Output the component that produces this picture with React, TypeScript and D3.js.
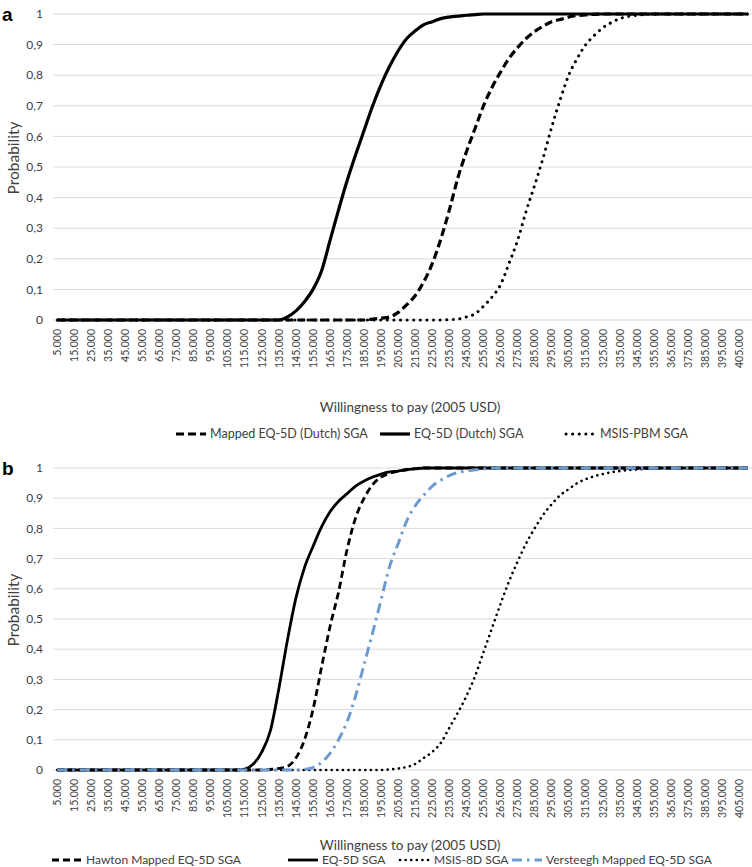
import React from "react";
import * as d3 from "d3";

// willingness to pay categories (2005 USD), one every 5.000
const categories = d3.range(5000, 410001, 5000);
const yTicks = [0, 0.1, 0.2, 0.3, 0.4, 0.5, 0.6, 0.7, 0.8, 0.9, 1];

// ---- panel a ----
const aMapped = [
  0, 0, 0, 0, 0, 0, 0, 0, 0, 0,
  0, 0, 0, 0, 0, 0, 0, 0, 0, 0,
  0, 0, 0, 0, 0, 0, 0, 0, 0, 0,
  0, 0, 0, 0, 0, 0, 0, 0.003, 0.006, 0.01,
  0.025, 0.05, 0.08, 0.125, 0.185, 0.265, 0.36, 0.465, 0.55, 0.625,
  0.7, 0.76, 0.81, 0.855, 0.89, 0.92, 0.943, 0.96, 0.975, 0.982,
  0.99, 0.995, 0.997, 0.999, 1, 1, 1, 1, 1, 1,
  1, 1, 1, 1, 1, 1, 1, 1, 1, 1,
  1, 1,
];
const aEq5d = [
  0, 0, 0, 0, 0, 0, 0, 0, 0, 0,
  0, 0, 0, 0, 0, 0, 0, 0, 0, 0,
  0, 0, 0, 0, 0, 0, 0, 0.01, 0.03, 0.06,
  0.1, 0.16, 0.26, 0.36, 0.455, 0.54, 0.62, 0.7, 0.77, 0.83,
  0.88, 0.92, 0.945, 0.965, 0.975, 0.985, 0.99, 0.993, 0.996, 0.998,
  1, 1, 1, 1, 1, 1, 1, 1, 1, 1,
  1, 1, 1, 1, 1, 1, 1, 1, 1, 1,
  1, 1, 1, 1, 1, 1, 1, 1, 1, 1,
  1, 1,
];
const aMsis = [
  0, 0, 0, 0, 0, 0, 0, 0, 0, 0,
  0, 0, 0, 0, 0, 0, 0, 0, 0, 0,
  0, 0, 0, 0, 0, 0, 0, 0, 0, 0,
  0, 0, 0, 0, 0, 0, 0, 0, 0, 0,
  0, 0, 0, 0, 0, 0, 0.001, 0.003, 0.01, 0.02,
  0.045, 0.075, 0.115, 0.185, 0.26, 0.355, 0.44, 0.53, 0.63, 0.72,
  0.8, 0.855, 0.9, 0.93, 0.955, 0.972, 0.985, 0.992, 0.996, 0.998,
  1, 1, 1, 1, 1, 1, 1, 1, 1, 1,
  1, 1,
];

// ---- panel b ----
const bHawton = [
  0, 0, 0, 0, 0, 0, 0, 0, 0, 0,
  0, 0, 0, 0, 0, 0, 0, 0, 0, 0,
  0, 0, 0, 0, 0, 0.002, 0.005, 0.012, 0.04, 0.1,
  0.2, 0.34, 0.475, 0.59, 0.73, 0.835, 0.9, 0.945, 0.97, 0.982,
  0.99, 0.995, 0.998, 1, 1, 1, 1, 1, 1, 1,
  1, 1, 1, 1, 1, 1, 1, 1, 1, 1,
  1, 1, 1, 1, 1, 1, 1, 1, 1, 1,
  1, 1, 1, 1, 1, 1, 1, 1, 1, 1,
  1, 1,
];
const bEq5d = [
  0, 0, 0, 0, 0, 0, 0, 0, 0, 0,
  0, 0, 0, 0, 0, 0, 0, 0, 0, 0,
  0, 0, 0.003, 0.02, 0.06, 0.13, 0.27, 0.43, 0.57, 0.67,
  0.74, 0.805, 0.855, 0.89, 0.915, 0.94, 0.957, 0.97, 0.98, 0.987,
  0.99, 0.994, 0.997, 1, 1, 1, 1, 1, 1, 1,
  1, 1, 1, 1, 1, 1, 1, 1, 1, 1,
  1, 1, 1, 1, 1, 1, 1, 1, 1, 1,
  1, 1, 1, 1, 1, 1, 1, 1, 1, 1,
  1, 1,
];
const bMsis = [
  0, 0, 0, 0, 0, 0, 0, 0, 0, 0,
  0, 0, 0, 0, 0, 0, 0, 0, 0, 0,
  0, 0, 0, 0, 0, 0, 0, 0, 0, 0,
  0, 0, 0, 0, 0, 0, 0, 0, 0, 0.002,
  0.005, 0.01, 0.02, 0.04, 0.06, 0.09, 0.14, 0.19, 0.245, 0.31,
  0.39, 0.47, 0.55, 0.625, 0.69, 0.75, 0.8, 0.845, 0.88, 0.91,
  0.93, 0.95, 0.963, 0.973, 0.98, 0.986, 0.99, 0.993, 0.995, 0.997,
  0.999, 1, 1, 1, 1, 1, 1, 1, 1, 1,
  1, 1,
];
const bVersteegh = [
  0, 0, 0, 0, 0, 0, 0, 0, 0, 0,
  0, 0, 0, 0, 0, 0, 0, 0, 0, 0,
  0, 0, 0, 0, 0, 0, 0, 0, 0, 0.002,
  0.008, 0.025, 0.055, 0.1, 0.16, 0.245, 0.35, 0.455, 0.565, 0.675,
  0.75, 0.825, 0.875, 0.91, 0.94, 0.96, 0.975, 0.985, 0.99, 0.994,
  0.997, 1, 1, 1, 1, 1, 1, 1, 1, 1,
  1, 1, 1, 1, 1, 1, 1, 1, 1, 1,
  1, 1, 1, 1, 1, 1, 1, 1, 1, 1,
  1, 1,
];

const FONT = "Lato, 'Open Sans', 'Liberation Sans', sans-serif";
const BLUE = "#6e9bcf";

const de = d3.formatLocale({ decimal: ",", thousands: ".", grouping: [3], currency: ["", ""] });
const fmtX = de.format(",d");
const fmtY = (v: number) => (v === 0 || v === 1 ? String(v) : de.format(".1f")(v));

type LineStyle = { color: string; width: number; dash: string; cap: "butt" | "round" };
type Series = { name: string; values: number[]; style: LineStyle; legendX: number };

const dashedA: LineStyle = { color: "#000", width: 3.2, dash: "8 4", cap: "butt" };
const solidA: LineStyle = { color: "#000", width: 3.2, dash: "none", cap: "butt" };
const dottedA: LineStyle = { color: "#000", width: 3, dash: "0.1 6.5", cap: "round" };
const dashedB: LineStyle = { color: "#000", width: 2.8, dash: "7 4", cap: "butt" };
const solidB: LineStyle = { color: "#000", width: 2.8, dash: "none", cap: "butt" };
const dottedB: LineStyle = { color: "#000", width: 2.6, dash: "0.1 5.5", cap: "round" };
const dashDotB: LineStyle = { color: BLUE, width: 3, dash: "10 5 2.5 5", cap: "butt" };

const seriesA: Series[] = [
  { name: "Mapped EQ-5D (Dutch) SGA", values: aMapped, style: dashedA, legendX: 176 },
  { name: "EQ-5D (Dutch) SGA", values: aEq5d, style: solidA, legendX: 380 },
  { name: "MSIS-PBM SGA", values: aMsis, style: dottedA, legendX: 566 },
];
const seriesB: Series[] = [
  { name: "Hawton Mapped EQ-5D SGA", values: bHawton, style: dashedB, legendX: 52 },
  { name: "EQ-5D SGA", values: bEq5d, style: solidB, legendX: 288 },
  { name: "MSIS-8D SGA", values: bMsis, style: dottedB, legendX: 400 },
  { name: "Versteegh Mapped EQ-5D SGA", values: bVersteegh, style: dashDotB, legendX: 512 },
];

const x = d3.scaleBand<number>().domain(categories).range([53, 752]).padding(0);
const xc = (c: number) => (x(c) as number) + x.bandwidth() / 2;

function Panel(props: {
  letter: string;
  top: number;
  bottom: number;
  series: Series[];
  titleY: number;
  legendY: number;
  legendSize: number;
}) {
  const { letter, top, bottom, series, titleY, legendY, legendSize } = props;
  const y = d3.scaleLinear().domain([0, 1]).range([bottom, top]);
  const line = d3
    .line<number>()
    .x((_, i) => xc(categories[i]))
    .y((v) => y(v))
    .curve(d3.curveMonotoneX);
  const labelTop = bottom + 9;

  return (
    <g>
      <text x={2} y={top + 7} fontFamily="'Liberation Sans', Arial, sans-serif" fontWeight="bold" fontSize={19}>
        {letter}
      </text>
      {yTicks.map((t) => (
        <g key={t}>
          <line x1={53} x2={752} y1={y(t)} y2={y(t)} stroke="#d9d9d9" strokeWidth={1} />
          <text x={43} y={y(t)} dy="0.35em" textAnchor="end" fontSize={12} fontFamily={FONT} fill="#404040">
            {fmtY(t)}
          </text>
        </g>
      ))}
      <text
        transform={`translate(14,${(top + bottom) / 2 - 9}) rotate(-90)`}
        textAnchor="middle"
        dy="0.35em"
        fontSize={15.5}
        fontFamily={FONT}
        fill="#404040"
      >
        Probability
      </text>
      {categories
        .filter((_, i) => i % 2 === 0)
        .map((c) => (
          <text
            key={c}
            transform={`translate(${xc(c)},${labelTop}) rotate(-90)`}
            textAnchor="end"
            dy="0.35em"
            fontSize={10.5}
            fontFamily={FONT}
            fill="#404040"
          >
            {fmtX(c)}
          </text>
        ))}
      <text x={410} y={titleY} dy="0.35em" textAnchor="middle" fontSize={13.5} fontFamily={FONT} fill="#404040">
        Willingness to pay (2005 USD)
      </text>
      {series.map((s) => (
        <path
          key={s.name}
          d={line(s.values) || ""}
          fill="none"
          stroke={s.style.color}
          strokeWidth={s.style.width}
          strokeDasharray={s.style.dash}
          strokeLinecap={s.style.cap}
          strokeLinejoin="round"
        />
      ))}
      {series.map((s) => (
        <g key={"lg" + s.name}>
          <line
            x1={s.legendX}
            x2={s.legendX + 30}
            y1={legendY}
            y2={legendY}
            stroke={s.style.color}
            strokeWidth={s.style.width}
            strokeDasharray={s.style.dash}
            strokeLinecap={s.style.cap}
          />
          <text x={s.legendX + 34} y={legendY} dy="0.35em" fontSize={legendSize} fontFamily={FONT} fill="#404040">
            {s.name}
          </text>
        </g>
      ))}
    </g>
  );
}

export default function App() {
  return (
    <div style={{ position: "absolute", left: 0, top: 0, background: "#fff" }}>
      <svg width={752} height={867} style={{ display: "block" }}>
        <rect width={752} height={867} fill="#fff" />
        <Panel letter="a" top={14} bottom={320} series={seriesA} titleY={407} legendY={434} legendSize={12.5} />
        <Panel letter="b" top={468} bottom={770} series={seriesB} titleY={845} legendY={860} legendSize={12} />
      </svg>
    </div>
  );
}
